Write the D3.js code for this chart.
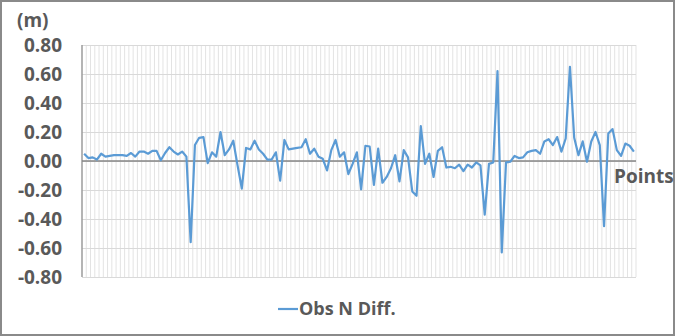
<!DOCTYPE html>
<html>
<head>
<meta charset="utf-8">
<script src="https://cdn.jsdelivr.net/npm/d3@7"></script>
<style>
body { margin: 0; background: #fff; }
text { font-family: "Open Sans", sans-serif; font-weight: bold; fill: #595959; }
</style>
</head>
<body>
<div id="chart-area"></div>
<script>
// Obs N Diff. (m), one value per point
var diffValues = [
    0.05, 0.02, 0.025, 0.01, 0.05, 0.03, 0.035, 0.04, 0.04, 0.04,
    0.035, 0.055, 0.03, 0.065, 0.065, 0.05, 0.07, 0.07, 0.005, 0.055,
    0.095, 0.065, 0.045, 0.065, 0.03, -0.56, 0.11, 0.16, 0.165, -0.015,
    0.06, 0.03, 0.2, 0.04, 0.08, 0.14, -0.03, -0.19, 0.09, 0.08,
    0.14, 0.08, 0.05, 0.01, 0.01, 0.06, -0.135, 0.145, 0.08, 0.085,
    0.09, 0.095, 0.15, 0.05, 0.085, 0.03, 0.015, -0.065, 0.075, 0.145,
    0.03, 0.06, -0.09, -0.02, 0.06, -0.195, 0.105, 0.10, -0.165, 0.085,
    -0.15, -0.11, -0.05, 0.04, -0.14, 0.075, 0.025, -0.21, -0.24, 0.24,
    -0.02, 0.05, -0.11, 0.07, 0.095, -0.045, -0.04, -0.05, -0.025, -0.07,
    -0.025, -0.045, -0.01, -0.03, -0.37, -0.02, -0.01, 0.62, -0.63, -0.01,
    -0.005, 0.035, 0.02, 0.025, 0.06, 0.07, 0.075, 0.05, 0.135, 0.15,
    0.11, 0.165, 0.065, 0.155, 0.65, 0.16, 0.04, 0.135, -0.005, 0.135,
    0.2, 0.11, -0.45, 0.19, 0.22, 0.075, 0.035, 0.12, 0.105, 0.065
];
var points = diffValues.map((d, i) => i + 1);
var yTicks = [-0.8, -0.6, -0.4, -0.2, 0, 0.2, 0.4, 0.6, 0.8];

var width = 675;
var height = 336;
var margin = {top: 45, right: 39, bottom: 59, left: 82};
var plotW = width - margin.left - margin.right;
var plotH = height - margin.top - margin.bottom;

var svg = d3.select("#chart-area")
    .append("svg")
        .attr("width", width)
        .attr("height", height);

// chart border
svg.append("rect")
    .attr("x", 1)
    .attr("y", 1)
    .attr("width", width - 2)
    .attr("height", height - 2)
    .attr("fill", "#fff")
    .attr("stroke", "#8a8a8a")
    .attr("stroke-width", 2);

var g = svg.append("g")
    .attr("transform", "translate(" + margin.left + ", " + margin.top + ")");

var x = d3.scaleBand().domain(points).range([0, plotW]);
var y = d3.scaleLinear().domain([-0.8, 0.8]).range([plotH, 0]);

// vertical gridlines between categories
g.append("g")
    .selectAll("line")
    .data(points.concat(["end"]))
    .enter().append("line")
        .attr("x1", (d) => { return d === "end" ? plotW : x(d); })
        .attr("x2", (d) => { return d === "end" ? plotW : x(d); })
        .attr("y1", 0)
        .attr("y2", plotH)
        .attr("stroke", "#e3e3e3")
        .attr("stroke-width", 1);

// horizontal gridlines
var yGrid = g.append("g")
    .call(d3.axisLeft(y).tickValues(yTicks).tickSize(-plotW).tickFormat(""));
yGrid.select(".domain").remove();
yGrid.selectAll("line").attr("stroke", "#d9d9d9");

// y labels
var yAxis = g.append("g")
    .call(d3.axisLeft(y).tickValues(yTicks).tickSize(0).tickPadding(20)
        .tickFormat((d) => { return d.toFixed(2); }));
yAxis.select(".domain").remove();
yAxis.selectAll("text")
    .attr("font-size", "19px")
    .attr("font-family", null)
    .attr("fill", "#595959")
    .attr("dy", "0.34em");

// left axis line
g.append("line")
    .attr("x1", 0).attr("x2", 0)
    .attr("y1", 0).attr("y2", plotH)
    .attr("stroke", "#8c8c8c")
    .attr("stroke-width", 1.2);

// zero axis
g.append("line")
    .attr("x1", 0).attr("x2", plotW)
    .attr("y1", y(0)).attr("y2", y(0))
    .attr("stroke", "#868686")
    .attr("stroke-width", 1.5);

var line = d3.line()
    .x((d, i) => { return x(points[i]) + x.bandwidth() / 2; })
    .y((d) => { return y(d); });

g.append("path")
    .datum(diffValues)
    .attr("fill", "none")
    .attr("stroke", "#5b9bd5")
    .attr("stroke-width", 2.2)
    .attr("stroke-linejoin", "round")
    .attr("d", line);

svg.append("text")
    .attr("x", 17)
    .attr("y", 27)
    .attr("font-size", "19px")
    .text("(m)");

svg.append("text")
    .attr("x", 614)
    .attr("y", 183)
    .attr("font-size", "19px")
    .text("Points");

// legend
svg.append("line")
    .attr("x1", 278).attr("x2", 298)
    .attr("y1", 309).attr("y2", 309)
    .attr("stroke", "#5b9bd5")
    .attr("stroke-width", 2.2);

svg.append("text")
    .attr("x", 299)
    .attr("y", 315)
    .attr("font-size", "18px")
    .text("Obs N Diff.");
</script>
</body>
</html>
